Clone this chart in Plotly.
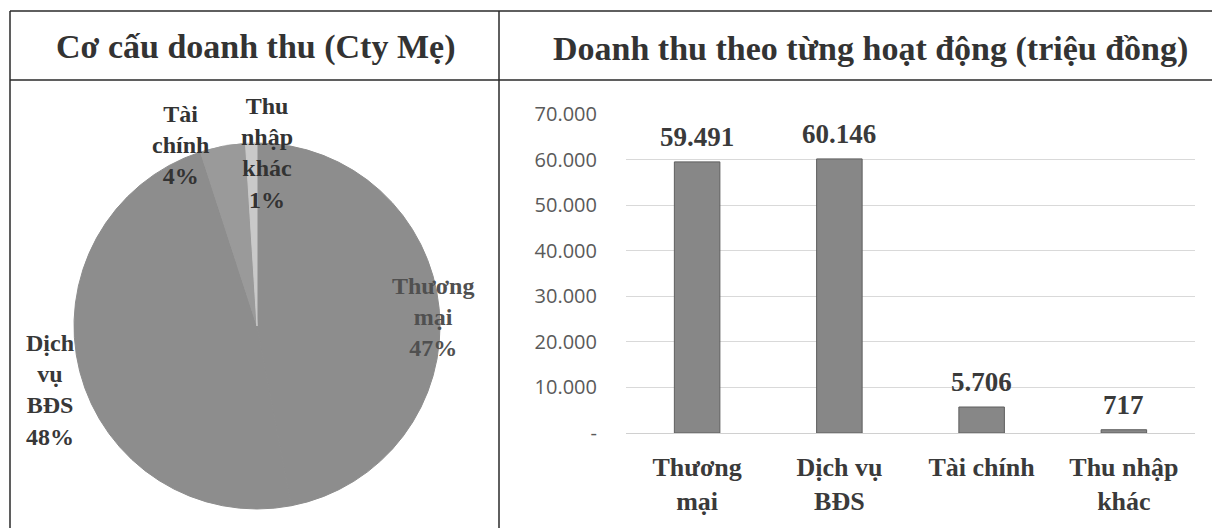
import plotly.graph_objects as go

# ---- data ----
pie_labels = ["Thương mại", "Dịch vụ BĐS", "Tài chính", "Thu nhập khác"]
pie_shares = [47, 48, 4, 1]

bar_categories = ["Thương<br>mại", "Dịch vụ<br>BĐS", "Tài chính", "Thu nhập<br>khác"]
bar_values = [59491, 60146, 5706, 717]

y_tick_values = [0, 10000, 20000, 30000, 40000, 50000, 60000, 70000]

title_left = "Cơ cấu doanh thu (Cty Mẹ)"
title_right = "Doanh thu theo từng hoạt động (triệu đồng)"

# ---- layout helpers (window pixel geometry; page body has an 8px margin) ----
OFF = 8
W, H = 1212, 520
def px(x):
    return (x - OFF) / W
def py(y):
    return 1 - (y - OFF) / H

def fmt(v):
    return "-" if v == 0 else f"{v:,}".replace(",", ".")

SERIF = "Liberation Serif, Times New Roman, serif"

fig = go.Figure()

# Pie
cx, cy, r = 257, 326, 183
slice_colors = ["#8d8d8d", "#8d8d8d", "#9a9a9a", "#c9c9c9"]
fig.add_trace(go.Pie(
    labels=pie_labels,
    values=pie_shares,
    sort=False,
    direction="clockwise",
    rotation=0,
    textinfo="none",
    marker=dict(colors=slice_colors, line=dict(color=slice_colors, width=1)),
    domain=dict(x=[px(cx - r), px(cx + r)], y=[py(cy + r), py(cy - r)]),
    showlegend=False,
))

# Bar
fig.add_trace(go.Bar(
    x=bar_categories,
    y=bar_values,
    width=0.32,
    marker=dict(color="#878787", line=dict(color="#5e5e5e", width=1)),
    showlegend=False,
    xaxis="x", yaxis="y",
))

annotations = []

# Titles
annotations.append(dict(x=px(255), y=py(47), xref="paper", yref="paper",
                        xanchor="center", yanchor="middle",
                        text="<b>" + title_left + "</b>", showarrow=False,
                        font=dict(family=SERIF, size=34, color="#333333")))
annotations.append(dict(x=px(870), y=py(49), xref="paper", yref="paper",
                        xanchor="center", yanchor="middle",
                        text="<b>" + title_right + "</b>", showarrow=False,
                        font=dict(family=SERIF, size=34, color="#333333")))

# Pie labels (positions are layout choices)
pie_label_pos = [(433, 317), (50, 390), (180, 145), (267, 153)]
pie_label_colors = ["#505050", "#383838", "#333333", "#333333"]
for lab, share, (lx, ly), col in zip(pie_labels, pie_shares, pie_label_pos, pie_label_colors):
    annotations.append(dict(x=px(lx), y=py(ly), xref="paper", yref="paper",
                            xanchor="center", yanchor="middle",
                            text="<b>" + lab.replace(" ", "<br>") + f"<br>{share}%</b>",
                            showarrow=False, align="center",
                            font=dict(family=SERIF, size=24, color=col)))

# Bar value labels
for cat, v in zip(bar_categories, bar_values):
    annotations.append(dict(x=cat, y=v, xref="x", yref="y", text="<b>" + fmt(v) + "</b>",
                            showarrow=False, xanchor="center", yanchor="bottom", yshift=8,
                            font=dict(family=SERIF, size=27, color="#3a3a3a")))

# Frame lines
line_col = "#2a2a2a"
shapes = [
    dict(type="line", xref="paper", yref="paper", x0=px(10), x1=1, y0=py(11), y1=py(11),
         line=dict(color=line_col, width=1.5)),
    dict(type="line", xref="paper", yref="paper", x0=px(10), x1=1, y0=py(80), y1=py(80),
         line=dict(color=line_col, width=1.5)),
    dict(type="line", xref="paper", yref="paper", x0=px(10), x1=px(10), y0=py(11), y1=0,
         line=dict(color=line_col, width=1.5)),
    dict(type="line", xref="paper", yref="paper", x0=px(499), x1=px(499), y0=py(11), y1=0,
         line=dict(color=line_col, width=1.5)),
]

fig.update_layout(
    width=W, height=H,
    margin=dict(l=0, r=0, t=0, b=0),
    paper_bgcolor="white", plot_bgcolor="white",
    annotations=annotations,
    shapes=shapes,
    xaxis=dict(domain=[px(626), px(1195)], showgrid=False, zeroline=False,
               showline=False, ticks="", ticklabelstandoff=16, automargin=False,
               tickfont=dict(family=SERIF, size=26, color="#3a3a3a"),
               tickprefix="<b>", ticksuffix="</b>"),
    yaxis=dict(domain=[py(433), py(114)], range=[0, 70000], automargin=False,
               tickvals=y_tick_values, ticktext=[fmt(v) for v in y_tick_values],
               showgrid=True, gridcolor="#d9d9d9", gridwidth=1,
               zeroline=True, zerolinecolor="#d0d0d0", zerolinewidth=1,
               showline=False, ticks="", ticklabelstandoff=28,
               tickfont=dict(family="Open Sans, Lato, sans-serif", size=20, color="#5a5a5a")),
)

fig.write_html("out.html")
